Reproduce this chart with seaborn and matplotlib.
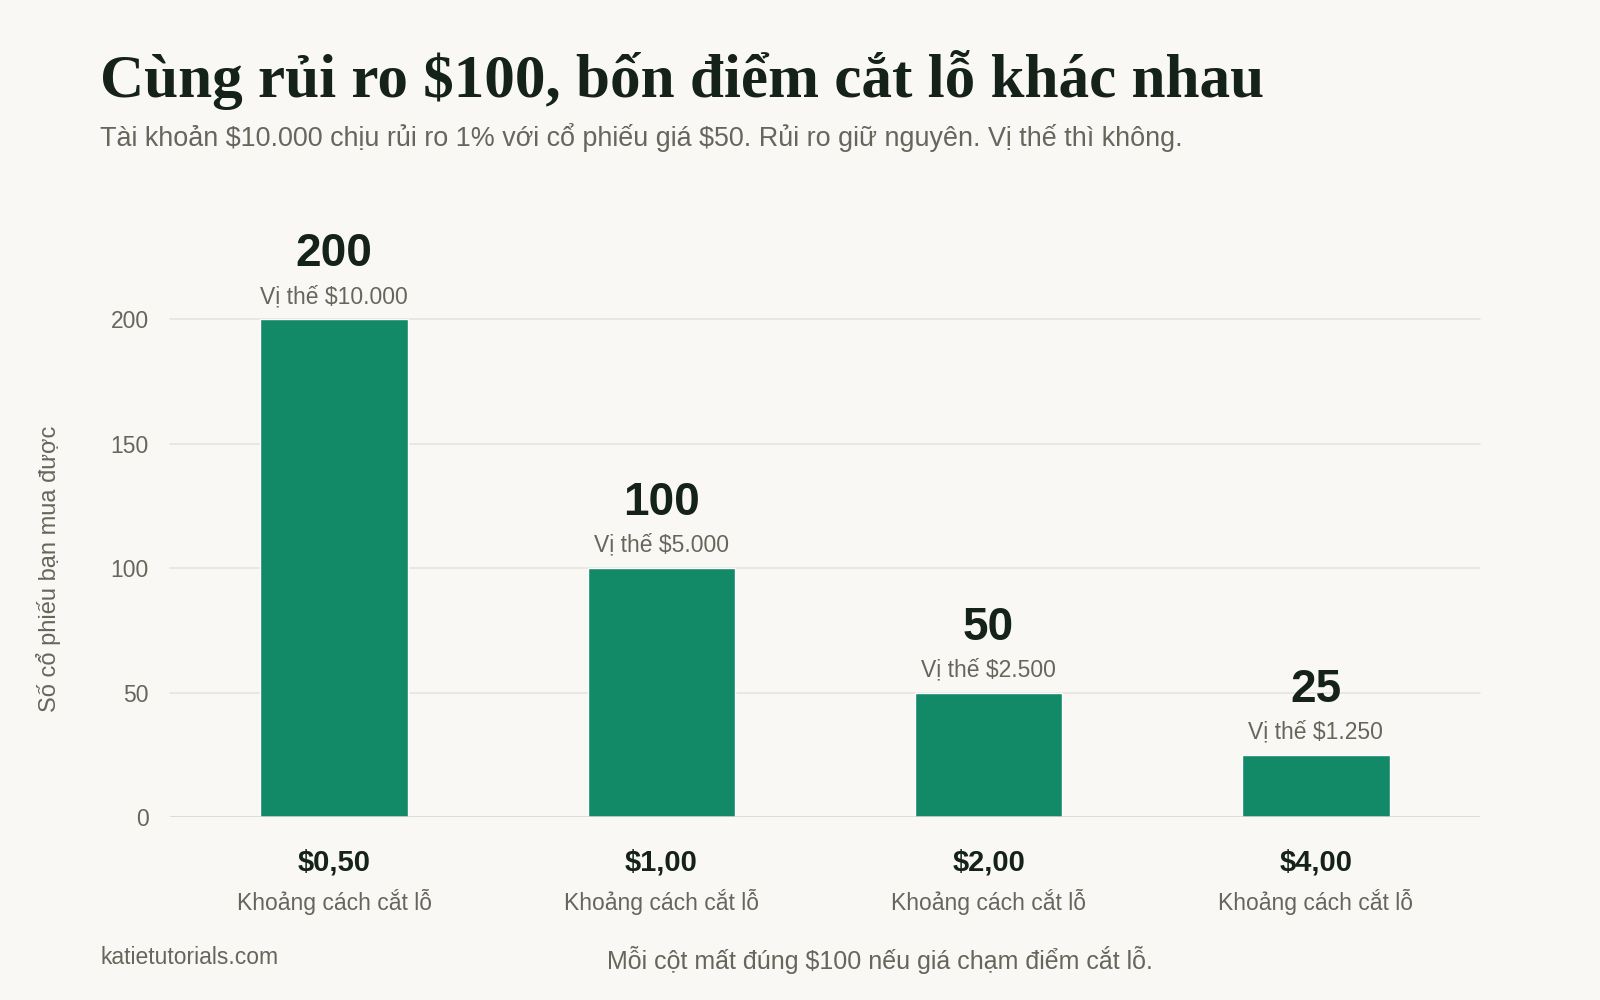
import matplotlib
matplotlib.use("Agg")
import matplotlib.pyplot as plt
import seaborn as sns
import pandas as pd

# chart data
STOP_LABELS = ['$0,50', '$1,00', '$2,00', '$4,00']
SHARES = [200, 100, 50, 25]
POSITION_LABELS = ['Vị thế $10.000', 'Vị thế $5.000', 'Vị thế $2.500', 'Vị thế $1.250']
Y_TICKS = [0, 50, 100, 150, 200]

BG = '#f9f8f4'
BAR = '#128a68'
DARK = '#15211b'
GRAY = '#66665c'
GRID = '#e6e4df'

sns.set_theme(style='white')
plt.rcParams['font.family'] = ['Liberation Sans', 'DejaVu Sans']
plt.rcParams['text.parse_math'] = False

data = pd.DataFrame({'Stop': STOP_LABELS, 'Shares': SHARES})

fig = plt.figure(figsize=(16, 10), dpi=100, facecolor=BG)
ax = fig.add_axes([0.1065, 0.1827, 0.8182, 0.4979])
ax.set_facecolor(BG)

sns.barplot(data=data, x='Stop', y='Shares', color=BAR, width=0.45, saturation=1, ax=ax, zorder=3)

ax.set_ylim(0, 200)
ax.set_xlim(-0.5, len(STOP_LABELS) - 0.5)
ax.set_yticks(Y_TICKS)
ax.set_yticklabels([str(t) for t in Y_TICKS], fontsize=16.5, color=GRAY)
ax.tick_params(axis='y', length=0, pad=15.5)
ax.tick_params(axis='x', length=0)
ax.set_xticks(range(len(STOP_LABELS)))
ax.set_xticklabels([''] * len(STOP_LABELS))
ax.set_xlabel('')
ax.set_ylabel('Số cổ phiếu bạn mua được', fontsize=17, color=GRAY, labelpad=36)

for t in Y_TICKS[1:]:
    ax.axhline(t, color=GRID, lw=1.2, zorder=1, clip_on=False)
ax.axhline(0, color='#d6d4ce', lw=1.8, zorder=4)
for s in ax.spines.values():
    s.set_visible(False)

for i, (val, pos, stop) in enumerate(zip(SHARES, POSITION_LABELS, STOP_LABELS)):
    ax.annotate(str(val), xy=(i, val), xytext=(0, 47), textcoords='offset points',
                ha='center', va='center', fontsize=33, fontweight='bold', color=DARK,
                annotation_clip=False)
    ax.annotate(pos, xy=(i, val), xytext=(0, 16.5), textcoords='offset points',
                ha='center', va='center', fontsize=16.5, color=GRAY, annotation_clip=False)
    ax.annotate(stop, xy=(i, 0), xycoords=('data', 'axes fraction'), xytext=(0, -32.5),
                textcoords='offset points', ha='center', va='center', fontsize=21,
                fontweight='bold', color=DARK, annotation_clip=False)
    ax.annotate('Khoảng cách cắt lỗ', xy=(i, 0), xycoords=('data', 'axes fraction'),
                xytext=(0, -61), textcoords='offset points', ha='center', va='center',
                fontsize=16.5, color=GRAY, annotation_clip=False)

fig.text(0.0625, 0.903, 'Cùng rủi ro $100, bốn điểm cắt lỗ khác nhau',
         family=['Liberation Serif', 'DejaVu Serif'], fontsize=44, fontweight='bold',
         color=DARK, ha='left', va='baseline')
fig.text(0.0625, 0.854, 'Tài khoản $10.000 chịu rủi ro 1% với cổ phiếu giá $50. Rủi ro giữ nguyên. Vị thế thì không.',
         fontsize=19.4, color=GRAY, ha='left', va='baseline')
fig.text(0.0625, 0.043, 'katietutorials.com', fontsize=16.5, color=GRAY, ha='left', va='center')
fig.text(0.55, 0.040, 'Mỗi cột mất đúng $100 nếu giá chạm điểm cắt lỗ.', fontsize=18,
         color=GRAY, ha='center', va='center')

fig.savefig('out.png', dpi=100, facecolor=BG)
